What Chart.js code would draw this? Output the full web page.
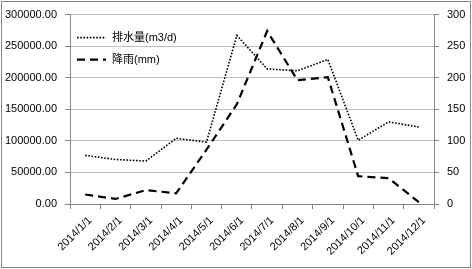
<!DOCTYPE html>
<html>
<head>
<meta charset="utf-8">
<script src="https://cdn.jsdelivr.net/npm/chart.js@4"></script>
<style>
  html, body { margin: 0; padding: 0; background: #fff; }
  #wrap { width: 472px; height: 269px; position: relative; }
</style>
</head>
<body>
<div id="wrap"><canvas id="linechart" width="472" height="269"></canvas></div>
<script>
// categories and series
var months = ["2014/1/1", "2014/2/1", "2014/3/1", "2014/4/1", "2014/5/1", "2014/6/1",
  "2014/7/1", "2014/8/1", "2014/9/1", "2014/10/1", "2014/11/1", "2014/12/1"];
var drainage = [77000, 70500, 68000, 104000, 98000, 267000, 214000, 211000, 229000, 101000, 130000, 122000];
var rainfall = [15, 8, 22, 17, 86, 158, 274, 196, 201, 44, 41, 3];
var drainageName = "排水量(m3/d)";
var rainName = "降雨(mm)";

var FONT = "'Liberation Sans', 'Noto Sans CJK SC', sans-serif";

// legend drawn inside the plot, top-left, like the Excel original
var insideLegend = {
  id: "insideLegend",
  afterDatasetsDraw(chart) {
    let ctx = chart.ctx;
    let area = chart.chartArea;
    ctx.save();
    ctx.font = "11px " + FONT;
    ctx.fillStyle = "#000";
    ctx.textBaseline = "middle";
    chart.data.datasets.forEach(function (ds, i) {
      let y = area.top + 23 + i * 22;
      let x = area.left + 7;
      ctx.beginPath();
      ctx.strokeStyle = ds.borderColor;
      ctx.lineWidth = ds.borderWidth;
      ctx.setLineDash(ds.borderDash);
      ctx.moveTo(x, y);
      ctx.lineTo(x + 29, y);
      ctx.stroke();
      ctx.setLineDash([]);
      ctx.fillText(ds.label, x + 35, y);
    });
    ctx.restore();
  },
};

// grey frame round the whole chart
var frame = {
  id: "frame",
  afterDraw(chart) {
    let ctx = chart.ctx;
    ctx.save();
    ctx.strokeStyle = "#868686";
    ctx.lineWidth = 1;
    ctx.strokeRect(1.5, 1.5, chart.width - 3, chart.height - 3);
    ctx.restore();
  },
};

let ctx = document.getElementById("linechart").getContext("2d");

let chart = new Chart(ctx, {
  type: "line",
  data: {
    labels: months,
    datasets: [
      {
        label: drainageName,
        data: drainage,
        yAxisID: "y",
        borderColor: "#000",
        borderWidth: 1.6,
        borderDash: [1.6, 1.6],
        pointRadius: 0,
        tension: 0,
        fill: false,
      },
      {
        label: rainName,
        data: rainfall,
        yAxisID: "y1",
        borderColor: "#000",
        borderWidth: 2.2,
        borderDash: [8, 5],
        pointRadius: 0,
        tension: 0,
        fill: false,
      },
    ],
  },
  options: {
    responsive: false,
    animation: false,
    layout: { padding: { top: 14, left: 0, right: 0, bottom: 0 } },
    plugins: {
      legend: { display: false },
      tooltip: { enabled: false },
    },
    scales: {
      x: {
        offset: true,
        grid: {
          offset: true,
          drawOnChartArea: false,
          color: "#868686",
          tickLength: 5,
        },
        border: { color: "#868686" },
        ticks: {
          color: "#000",
          font: { family: FONT, size: 11 },
          maxRotation: 45,
          minRotation: 45,
          autoSkip: false,
          padding: 5,
          labelOffset: 5,
        },
        afterFit(scale) { scale.height = 65; },
      },
      y: {
        position: "left",
        min: 0,
        max: 300000,
        ticks: {
          stepSize: 50000,
          color: "#000",
          font: { family: FONT, size: 11 },
          padding: 8,
          callback: (v) => v.toFixed(2),
        },
        grid: { color: "#bfbfbf", tickLength: 5, tickColor: "#868686" },
        border: { color: "#868686" },
        afterFit(scale) { scale.width = 70; },
      },
      y1: {
        position: "right",
        min: 0,
        max: 300,
        ticks: {
          stepSize: 50,
          color: "#000",
          font: { family: FONT, size: 11 },
          padding: 8,
        },
        grid: { drawOnChartArea: false, color: "#868686", tickLength: 5 },
        border: { color: "#868686" },
        afterFit(scale) { scale.width = 38; },
      },
    },
  },
  plugins: [insideLegend, frame],
});
</script>
</body>
</html>
